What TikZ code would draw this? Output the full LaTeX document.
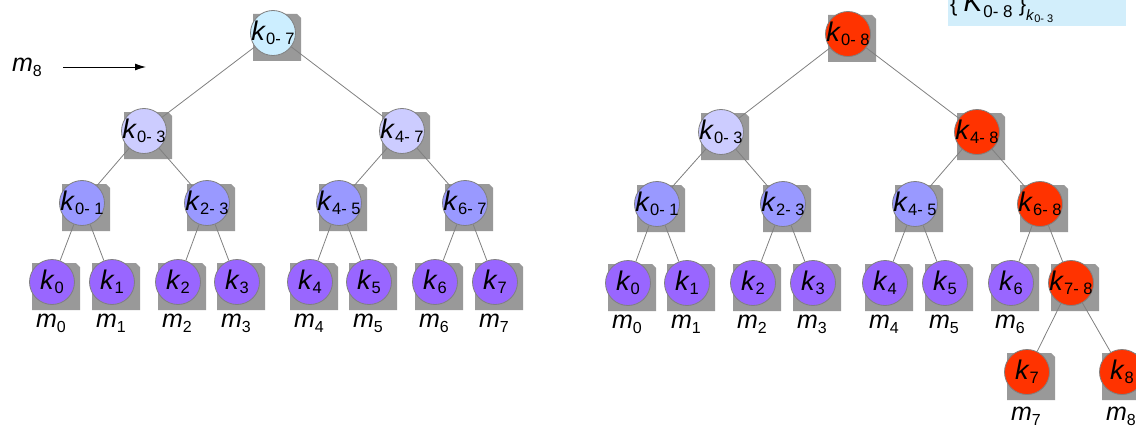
\documentclass[tikz,border=0pt]{standalone}
\usepackage{fontspec}
\setmainfont{Liberation Sans}
\usetikzlibrary{arrows.meta, backgrounds}
\definecolor{topblue}{HTML}{CCEEFF}
\definecolor{lavender}{HTML}{CCCCFF}
\definecolor{midblue}{HTML}{9999FF}
\definecolor{leafviolet}{HTML}{9966FF}
\definecolor{hotred}{HTML}{FF3300}
\definecolor{shadowgray}{HTML}{999999}
\definecolor{edgegray}{HTML}{808080}
\definecolor{boxblue}{HTML}{D2EEFB}
\newcommand{\klab}[1]{\makebox[0pt]{\textit{k}\raisebox{-4pt}{\fontsize{16.5}{17}\selectfont #1}}}
\newcommand{\mlab}[1]{\textit{m}\raisebox{-5pt}{\fontsize{16}{16}\selectfont #1}}

\begin{document}
\begin{tikzpicture}[x=1pt, y=-1pt,
    kn/.style={circle, minimum size=45pt, inner sep=0pt, draw=edgegray, line width=0.8pt,
               font=\fontsize{27}{30}\selectfont},
    tree/.style={draw=edgegray, line width=0.8pt},
    mlabel/.style={inner sep=0pt, font=\fontsize{25}{28}\selectfont}]
    \useasboundingbox (0,0) rectangle (1136,428);
    % Linkerboom
    \node[kn, fill=topblue] (L07) at (273,33) {\klab{0- 7}};
    \node[kn, fill=lavender] (L03) at (144,131) {\klab{0- 3}};
    \node[kn, fill=lavender] (L47) at (402,131) {\klab{4- 7}};
    \node[kn, fill=midblue] (L01) at (82,203) {\klab{0- 1}};
    \node[kn, fill=midblue] (L23) at (207,203) {\klab{2- 3}};
    \node[kn, fill=midblue] (L45) at (339,203) {\klab{4- 5}};
    \node[kn, fill=midblue] (L67) at (465,203) {\klab{6- 7}};
    \foreach \i/\x in {0/52, 1/112, 2/178, 3/237, 4/310, 5/369, 6/435, 7/495} {
        \node[kn, fill=leafviolet] (L\i) at (\x,282) {\klab{\i}};
        \node[mlabel] (Lm\i) at (\x-1,323) {\mlab{\i}};
    }
    % Nieuw bericht
    \node[mlabel] (m8) at (27,67) {\mlab{8}};
    \coordinate (arrowtail) at (63,67);
    \coordinate (arrowtip) at (146,67);
    \draw[-{Latex[length=11pt,width=7pt]}, line width=0.9pt] (arrowtail) -- (arrowtip);
    % Rechterboom
    \node[kn, fill=hotred] (R08) at (848,34) {\klab{0- 8}};
    \node[kn, fill=lavender] (R03) at (721,132) {\klab{0- 3}};
    \node[kn, fill=hotred] (R48) at (977,132) {\klab{4- 8}};
    \node[kn, fill=midblue] (R01) at (657,204) {\klab{0- 1}};
    \node[kn, fill=midblue] (R23) at (783,204) {\klab{2- 3}};
    \node[kn, fill=midblue] (R45) at (915,204) {\klab{4- 5}};
    \node[kn, fill=hotred] (R68) at (1040,204) {\klab{6- 8}};
    \foreach \i/\x in {0/628, 1/687, 2/753, 3/813, 4/885, 5/945, 6/1011} {
        \node[kn, fill=leafviolet] (R\i) at (\x,283) {\klab{\i}};
        \node[mlabel] (Rm\i) at (\x-1,324) {\mlab{\i}};
    }
    \node[kn, fill=hotred] (R78) at (1071,283) {\klab{7- 8}};
    \node[kn, fill=hotred] (R7) at (1027,372) {\klab{7}};
    \node[kn, fill=hotred] (R8) at (1122,372) {\klab{8}};
    \node[mlabel] (Rm7) at (1026,416) {\mlab{7}};
    \node[mlabel] (Rm8) at (1121,416) {\mlab{8}};
    % Takken
    \foreach \a/\b in {L07/L03, L07/L47, L03/L01, L03/L23, L47/L45, L47/L67,
                       L01/L0, L01/L1, L23/L2, L23/L3, L45/L4, L45/L5, L67/L6, L67/L7,
                       R08/R03, R08/R48, R03/R01, R03/R23, R48/R45, R48/R68,
                       R01/R0, R01/R1, R23/R2, R23/R3, R45/R4, R45/R5, R68/R6, R68/R78,
                       R78/R7, R78/R8}
        \draw[tree] (\a) -- (\b);
    % Schaduwen
    \begin{scope}[on background layer]
        \foreach \n in {L07, L03, L47, L01, L23, L45, L67, L0, L1, L2, L3, L4, L5, L6, L7,
                        R08, R03, R48, R01, R23, R45, R68, R0, R1, R2, R3, R4, R5, R6,
                        R78, R7, R8}
            \fill[shadowgray] ([shift={(-20,-19)}]\n.center) -- ([shift={(24,-19)}]\n.center)
                -- ([shift={(28,-15)}]\n.center) -- ([shift={(28,28)}]\n.center)
                -- ([shift={(-20,28)}]\n.center) -- cycle;
    \end{scope}
    % Sleutelkader
    \node[fill=boxblue, inner sep=0pt, minimum width=178pt, minimum height=40pt, anchor=south west]
        (keybox) at (948,26) {};
    \node[anchor=base west, inner sep=0pt] (keytext) at (950,12)
        {{\fontsize{22}{22}\selectfont\{ }{\fontsize{28}{28}\selectfont\textit{K}}\raisebox{-6pt}{\fontsize{17}{17}\selectfont 0- 8}{\fontsize{22}{22}\selectfont\ \}}\raisebox{-9pt}{\fontsize{15}{15}\selectfont\textit{k}\raisebox{-2pt}{\fontsize{11}{11}\selectfont 0- 3}}};
\end{tikzpicture}
\end{document}
